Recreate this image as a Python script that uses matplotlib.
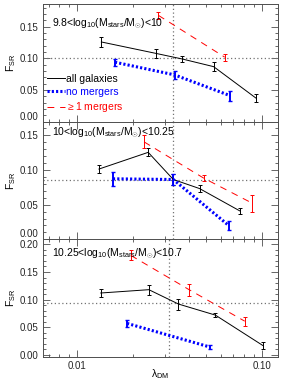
import numpy as np
import matplotlib
matplotlib.use("Agg")
import matplotlib.pyplot as plt
from matplotlib.ticker import MultipleLocator, FixedLocator, FixedFormatter, NullFormatter

plt.rcParams['font.family'] = ['Liberation Sans', 'DejaVu Sans']
plt.rcParams['font.size'] = 7
plt.rcParams['mathtext.fontset'] = 'custom'
plt.rcParams['mathtext.rm'] = 'Liberation Sans'
plt.rcParams['mathtext.it'] = 'Liberation Sans'

# mass bins
bin_labels = [r"9.8<log$_{10}$(M$_{stars}$/M$_{\odot}$)<10",
              r"10<log$_{10}$(M$_{stars}$/M$_{\odot}$)<10.25",
              r"10.25<log$_{10}$(M$_{stars}$/M$_{\odot}$)<10.7"]

# all galaxies
all_x = [[0.0135, 0.0266, 0.0371, 0.0547, 0.0930],
         [0.0131, 0.0242, 0.0331, 0.0459, 0.0757],
         [0.0134, 0.0244, 0.0353, 0.0559, 0.1010]]
all_y = [[0.126, 0.108, 0.099, 0.087, 0.037],
         [0.101, 0.125, 0.086, 0.073, 0.041],
         [0.112, 0.118, 0.092, 0.072, 0.017]]
all_e = [[0.0084, 0.0074, 0.0044, 0.0071, 0.0060],
         [0.0060, 0.0057, 0.0084, 0.0048, 0.0040],
         [0.0076, 0.0091, 0.0100, 0.0042, 0.0069]]

# no mergers
nom_x = [[0.0160, 0.0336, 0.0674],
         [0.0156, 0.0331, 0.0660],
         [0.0186, 0.0525]]
nom_y = [[0.094, 0.074, 0.041],
         [0.087, 0.086, 0.020],
         [0.057, 0.014]]
nom_e = [[0.0052, 0.0066, 0.0079],
         [0.0103, 0.0079, 0.0060],
         [0.0067, 0.0036]]

# >=1 mergers
mrg_x = [[0.0275, 0.0628],
         [0.0230, 0.0483, 0.0885],
         [0.0195, 0.0403, 0.0806]]
mrg_y = [[0.168, 0.102],
         [0.140, 0.088, 0.052],
         [0.180, 0.118, 0.061]]
mrg_e = [[0.0058, 0.0055],
         [0.0093, 0.0043, 0.0120],
         [0.0090, 0.0106, 0.0084]]

# reference lines (mean F_SR, median lambda)
f_mean = [0.100, 0.086, 0.093]
lam_med = [0.0331, 0.0331, 0.0315]

ylims = [(0, 0.186), (0, 0.169), (-0.004, 0.209)]
text_y = [0.83, 0.905, 0.88]

fig = plt.figure(figsize=(2.93, 3.83), dpi=100)
left, width, h = 42.7 / 293, 235.3 / 293, 117.7 / 383
bottoms = [1 - 121.7 / 383, 1 - 239.4 / 383, 1 - 357.1 / 383]
axc = '0.3'
axes = []

for i in range(3):
    ax = fig.add_axes([left, bottoms[i], width, h])
    axes.append(ax)
    ax.set_xscale('log')
    ax.set_xlim(0.0065, 0.122)
    ax.set_ylim(*ylims[i])

    ax.axhline(f_mean[i], color='0.45', ls=(0, (1, 2)), lw=0.9)
    ax.axvline(lam_med[i], color='0.45', ls=(0, (1, 2)), lw=0.9)

    c1 = ax.errorbar(all_x[i], all_y[i], yerr=all_e[i], color='black', lw=0.7,
                     elinewidth=0.7, capsize=1.6, capthick=0.7)
    c2 = ax.errorbar(nom_x[i], nom_y[i], yerr=nom_e[i], color='blue', lw=2.2,
                     ls=(0, (0.7, 0.7)), elinewidth=1.4, capsize=1.4, capthick=1.0)
    c3 = ax.errorbar(mrg_x[i], mrg_y[i], yerr=mrg_e[i], color='red', lw=0.7,
                     ls=(0, (7, 6)), elinewidth=0.7, capsize=1.6, capthick=0.7)

    ax.text(0.04, text_y[i], bin_labels[i], transform=ax.transAxes,
            fontsize=7.5, va='center', ha='left')

    ax.yaxis.set_major_locator(MultipleLocator(0.05))
    ax.yaxis.set_minor_locator(MultipleLocator(0.01))
    ax.yaxis.set_major_formatter(plt.FuncFormatter(lambda v, p: "%.2f" % (0.0 if abs(v) < 1e-9 else v)))
    ax.xaxis.set_major_locator(FixedLocator([0.01, 0.1]))
    ax.xaxis.set_minor_formatter(NullFormatter())
    if i == 2:
        ax.xaxis.set_major_formatter(FixedFormatter(["0.01", "0.10"]))
        ax.set_xlabel(r"$\lambda_{DM}$", fontsize=7.5)
        ax.xaxis.set_label_coords(0.5, -0.085)
    else:
        ax.xaxis.set_major_formatter(NullFormatter())

    ax.tick_params(which='both', direction='in', top=True, right=True,
                   colors=axc, labelcolor='0.15', width=0.6, labelsize=7)
    ax.tick_params(which='major', length=5, pad=3)
    ax.tick_params(which='minor', length=2.5)
    for s in ax.spines.values():
        s.set_color(axc)
        s.set_linewidth(0.7)
    ax.set_ylabel(r"F$_{SR}$", fontsize=7.5, labelpad=1)

    if i == 0:
        ax.legend([c1[0], c2[0], c3[0]],
                  ['all galaxies', 'no mergers', r'$\geq$1 mergers'],
                  loc='center left', bbox_to_anchor=(0.015, 0.235), frameon=False,
                  handlelength=1.7, handletextpad=0.1, labelspacing=0.3,
                  borderaxespad=0, borderpad=0.1, fontsize=7.5,
                  labelcolor='linecolor')

# lift the 0.00 labels of the upper panels off the shared edge
fig.canvas.draw()
for ax in axes[:2]:
    for t in ax.yaxis.get_major_ticks():
        if t.label1.get_text() == "0.00":
            t.label1.set_va('bottom')

fig.savefig("out.png", dpi=100)
